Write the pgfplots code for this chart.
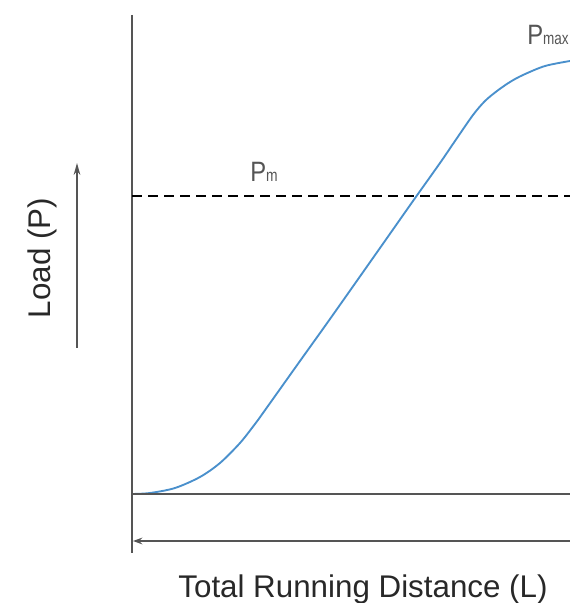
\documentclass[border=0pt]{standalone}
\usepackage{pgfplots}
\pgfplotsset{compat=1.18}
\usepackage{graphicx}
\usepackage{fontspec}
\setmainfont{Liberation Sans}
\usetikzlibrary{arrows.meta}
\definecolor{curveblue}{RGB}{74,144,204}
\definecolor{axgray}{RGB}{85,85,85}
\definecolor{txt}{RGB}{40,40,40}
\begin{document}
\begin{tikzpicture}
\begin{axis}[
    width=427.5pt, height=452.25pt, scale only axis,
    xmin=0, xmax=570, ymin=0, ymax=603,
    hide axis, clip=false,
]
% load curve, y = 603 - pixel row
\addplot[curveblue, line width=1.4pt, smooth] coordinates {
    (132,109) (150,110) (175,115) (200,126) (220,140) (240,160)
    (255,179) (263,190) (300,242) (330,284) (380,355) (413,402)
    (440,440) (455,462) (473,488) (485,502) (497,512) (510,521)
    (523,528) (545,537) (570,542)
};
% frame lines
\draw[axgray, line width=1.5pt] (axis cs:132,588) -- (axis cs:132,50);
\draw[axgray, line width=1.3pt] (axis cs:132,109) -- (axis cs:570,109);
\draw[black, line width=1pt, dash pattern=on 7.5pt off 4.5pt] (axis cs:132,407) -- (axis cs:570,407);
\draw[axgray, line width=1.3pt, -{Stealth[length=7pt,width=5pt]}] (axis cs:570,62) -- (axis cs:133,62);
\draw[axgray, line width=1.1pt, -{Stealth[length=9pt,width=5pt]}] (axis cs:77,255) -- (axis cs:77,440);
% labels
\node[txt, rotate=90, font=\fontsize{23.5}{26}\selectfont] at (axis cs:42,345) {Load (P)};
\node[txt, anchor=base, font=\fontsize{23.5}{26}\selectfont, inner sep=0pt] at (axis cs:363,6) {Total Running Distance (L)};
\node[axgray, anchor=base west, inner sep=0pt] at (axis cs:250,421) {\scalebox{0.85}[1]{\fontsize{21}{24}\selectfont P}\scalebox{0.8}[1]{\fontsize{13}{15}\selectfont m}};
\node[axgray, anchor=base west, inner sep=0pt] at (axis cs:527,558) {\scalebox{0.85}[1]{\fontsize{21}{24}\selectfont P}\scalebox{0.78}[1]{\fontsize{13}{15}\selectfont max}};
\coordinate (bl) at (axis cs:0,0);
\coordinate (tr) at (axis cs:570,603);
\end{axis}
\pgfresetboundingbox
\useasboundingbox (bl) rectangle (tr);
\end{tikzpicture}
\end{document}
